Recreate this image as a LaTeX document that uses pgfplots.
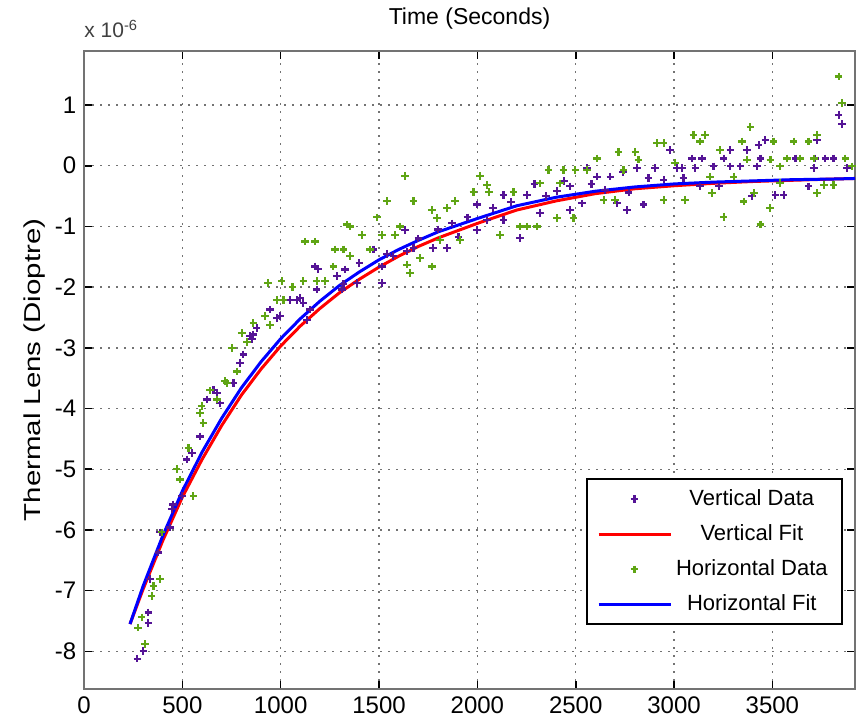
\documentclass[border=0pt]{standalone}
\usepackage{fontspec}
\setmainfont{Liberation Sans}
\usepackage{pgfplots}
\pgfplotsset{compat=1.18}
\definecolor{vdata}{RGB}{85,20,150}
\definecolor{hdata}{RGB}{95,165,20}
\begin{document}
\fontsize{11pt}{13pt}\selectfont
\begin{tikzpicture}
\begin{axis}[
  name=ax,
  scale only axis, width=385.5pt, height=319pt,
  xmin=0, xmax=3920, ymin=-8.62, ymax=1.89,
  xtick={0,500,1000,1500,2000,2500,3000,3500},
  ytick={-8,-7,-6,-5,-4,-3,-2,-1,0,1},
  /pgf/number format/assume math mode=true,
  /pgf/number format/set thousands separator={},
  tick label style={font=\fontsize{12}{14}\selectfont},
  grid=major,
  major grid style={black!55, line width=0.7pt, dash pattern=on 0.8pt off 3.2pt},
  axis line style={black!55, line width=0.8pt},
  tick style={black, line width=0.8pt},
  major tick length=4pt,
  tick align=inside,
  title={Time (Seconds)},
  title style={at={(0.5,1)}, anchor=base, yshift=7pt, font=\fontsize{11.5}{13}\selectfont},
  legend cell align=center,
  legend style={at={(rel axis cs:0.984,0.1)}, anchor=south east, draw=black, line width=1pt,
    font=\fontsize{11}{13}\selectfont, row sep=4pt, inner xsep=5pt, inner ysep=3pt,
    legend image code/.code={\draw[mark repeat=2,mark phase=2,#1] plot coordinates {(0pt,0pt) (18pt,0pt) (36pt,0pt)};}},
]
\addplot[only marks, mark=+, mark size=1.9pt, color=vdata, mark options={line width=1.1pt}] coordinates {
(271,-8.12) (302,-7.99) (327,-7.53) (327,-7.36) (336,-6.81) (378,-6.37) (387,-6.04) (437,-5.96)
(446,-5.66) (454,-5.58) (497,-5.44) (522,-4.84) (548,-4.73) (590,-4.46) (624,-3.85) (658,-3.69)
(675,-3.74) (692,-3.91) (760,-3.58) (793,-3.25) (810,-3.11) (844,-2.81) (853,-2.85) (861,-2.78)
(878,-2.67) (946,-2.37) (980,-2.51) (997,-2.48) (1048,-2.21) (1082,-2.21) (1099,-2.18) (1115,-2.26)
(1133,-2.54) (1150,-2.37) (1175,-1.66) (1183,-2.04) (1190,-1.70) (1285,-1.82) (1311,-2.04) (1319,-1.95)
(1328,-1.71) (1387,-1.93) (1400,-1.60) (1472,-1.38) (1514,-1.66) (1514,-1.93) (1540,-1.45) (1573,-1.49)
(1633,-1.06) (1641,-1.41) (1675,-1.36) (1700,-1.20) (1775,-1.36) (1800,-1.05) (1845,-1.36) (1870,-0.95)
(1904,-1.17) (1950,-0.85) (1997,-1.06) (1997,-0.64) (2048,-0.89) (2080,-0.70) (2133,-0.48) (2133,-0.89)
(2170,-0.60) (2218,-1.19) (2252,-0.48) (2290,-0.30) (2319,-0.78) (2350,-0.50) (2404,-0.42) (2440,-0.25)
(2472,-0.34) (2472,-0.73) (2531,-0.62) (2557,-0.04) (2580,-0.30) (2608,-0.18) (2650,-0.40) (2676,-0.18)
(2709,-0.62) (2740,-0.10) (2760,-0.73) (2769,-0.44) (2811,-0.04) (2845,-0.64) (2870,-0.20) (2904,-0.04)
(2947,-0.23) (2980,0.26) (3014,-0.04) (3040,-0.04) (3048,-0.20) (3091,0.12) (3108,-0.04) (3133,-0.34)
(3142,0.12) (3201,-0.01) (3227,-0.34) (3252,0.12) (3286,0.26) (3286,-0.01) (3337,-0.01) (3371,0.26)
(3396,-0.50) (3422,-0.01) (3430,0.34) (3439,0.12) (3464,0.42) (3515,-0.48) (3557,-0.48) (3617,0.12)
(3684,-0.34) (3710,-0.04) (3718,0.12) (3727,0.42) (3769,0.12) (3811,0.12) (3837,0.84) (3854,0.69)
(3879,-0.04)
};
\addlegendentry{Vertical Data}
\addplot[color=red, line width=1.5pt] coordinates {
(234,-7.55) (300,-6.98) (400,-6.18) (500,-5.46) (600,-4.84) (700,-4.28) (800,-3.78) (900,-3.35)
(1000,-2.97) (1100,-2.64) (1200,-2.35) (1300,-2.09) (1400,-1.87) (1500,-1.67) (1600,-1.49) (1700,-1.33)
(1800,-1.19) (1900,-1.07) (2000,-0.95) (2200,-0.73) (2400,-0.58) (2600,-0.46) (2800,-0.38) (3000,-0.33)
(3200,-0.29) (3400,-0.26) (3600,-0.24) (3800,-0.22) (3920,-0.21)
};
\addlegendentry{Vertical Fit}
\addplot[only marks, mark=+, mark size=1.9pt, color=hdata, mark options={line width=1.1pt}] coordinates {
(276,-7.61) (293,-7.44) (310,-7.88) (344,-7.09) (353,-6.92) (387,-6.81) (395,-6.04) (471,-5.00)
(488,-5.17) (531,-4.65) (556,-5.44) (590,-4.07) (598,-3.96) (607,-4.24) (640,-3.70) (675,-3.85)
(717,-3.55) (726,-3.58) (751,-3.00) (777,-3.39) (802,-2.76) (830,-2.90) (861,-2.59) (921,-2.48)
(937,-1.93) (946,-2.62) (980,-2.21) (1005,-1.90) (1014,-2.21) (1060,-2.00) (1115,-1.90) (1124,-1.25)
(1175,-1.25) (1183,-1.90) (1225,-1.90) (1268,-1.66) (1277,-1.38) (1319,-1.38) (1336,-0.97) (1353,-1.00)
(1353,-1.49) (1412,-1.14) (1455,-1.38) (1489,-0.85) (1514,-1.14) (1540,-0.58) (1582,-1.14) (1607,-1.00)
(1633,-0.17) (1641,-1.63) (1658,-1.77) (1675,-0.58) (1709,-1.52) (1768,-0.73) (1768,-1.66) (1794,-0.86)
(1811,-1.22) (1845,-0.70) (1887,-0.58) (1913,-1.22) (1980,-0.43) (2014,-0.17) (2048,-0.32) (2060,-0.43)
(2116,-1.14) (2184,-0.43) (2218,-1.00) (2252,-1.00) (2302,-1.00) (2319,-0.29) (2362,-0.07) (2404,-0.86)
(2421,-0.29) (2438,-0.07) (2489,-0.86) (2498,-0.07) (2557,-0.07) (2608,0.12) (2642,-0.56) (2701,-0.56)
(2718,0.23) (2743,-0.07) (2803,0.23) (2819,0.10) (2913,0.37) (2947,0.37) (2947,-0.56) (3006,0.05)
(3057,-0.56) (3099,0.51) (3133,0.40) (3158,0.51) (3184,-0.18) (3193,-0.45) (3235,0.26) (3252,-0.84)
(3303,-0.18) (3345,0.40) (3354,-0.59) (3371,0.10) (3388,0.64) (3405,-0.45) (3439,-0.97) (3489,-0.70)
(3490,0.10) (3506,0.40) (3540,-0.01) (3540,-0.28) (3574,0.12) (3608,0.40) (3642,0.12) (3684,0.40)
(3710,0.12) (3727,0.51) (3727,-0.45) (3761,-0.32) (3811,-0.32) (3837,1.47) (3854,1.03) (3871,0.12)
(3905,-0.01)
};
\addlegendentry{Horizontal Data}
\addplot[color=blue, line width=1.5pt] coordinates {
(234,-7.55) (300,-6.93) (400,-6.10) (500,-5.36) (600,-4.72) (700,-4.16) (800,-3.66) (900,-3.23)
(1000,-2.85) (1100,-2.52) (1200,-2.23) (1300,-1.97) (1400,-1.75) (1500,-1.55) (1600,-1.38) (1700,-1.23)
(1800,-1.09) (1900,-0.98) (2000,-0.87) (2200,-0.66) (2400,-0.52) (2600,-0.42) (2800,-0.35) (3000,-0.30)
(3200,-0.27) (3400,-0.25) (3600,-0.23) (3800,-0.22) (3920,-0.21)
};
\addlegendentry{Horizontal Fit}
\end{axis}
\node[rotate=90, anchor=center, font=\fontsize{11.5}{13}\selectfont] at ([xshift=-24.5pt]ax.west) {\scalebox{1.28}[1]{Thermal Lens (Dioptre)}};
\node[anchor=base west, font=\fontsize{10.5}{12}\selectfont, text=black!75, inner sep=0pt] at ([yshift=6.5pt]ax.north west) {x 10\textsuperscript{-6}};
\path ([xshift=-42pt,yshift=25.5pt]ax.north west) ([xshift=2.5pt]ax.north east);
\end{tikzpicture}
\end{document}
